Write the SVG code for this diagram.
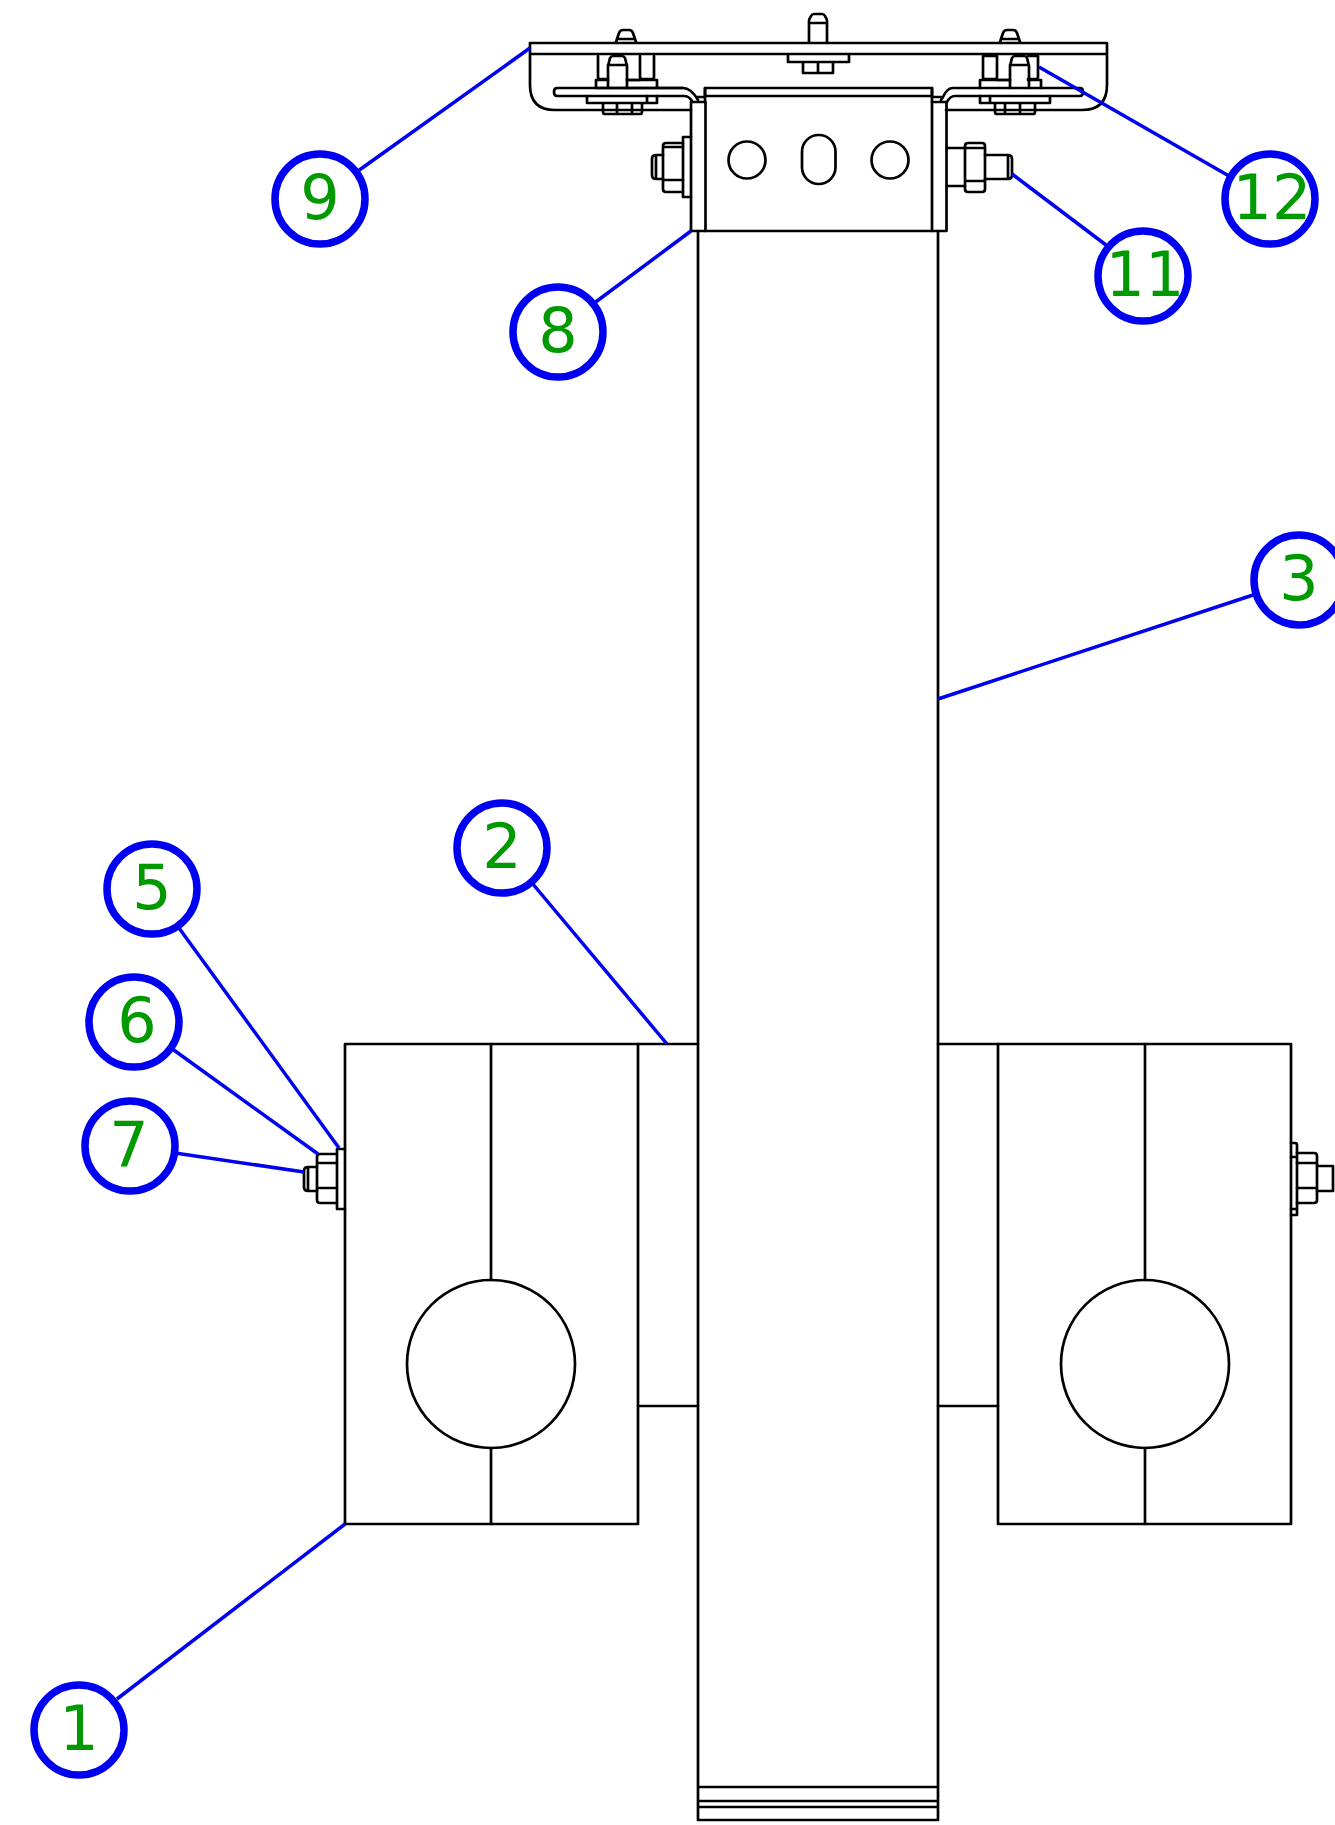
<svg xmlns="http://www.w3.org/2000/svg" width="1335" height="1825" viewBox="0 0 1335 1825">
<style>
.k{fill:none;stroke:#000;stroke-width:2.7;stroke-linejoin:round;stroke-linecap:round}
.l{fill:none;stroke:#0000f0;stroke-width:3.5}
.c{fill:#fff;stroke:#0000f0;stroke-width:7.5}
.t{font-family:"DejaVu Sans",Verdana,sans-serif;font-size:62px;fill:#009900;text-anchor:middle}
</style>
<defs>
<path id="topbolt" class="k" d="M-10 0L-7 -9Q-6 -12 -3 -12H3Q6 -12 7 -9L10 0M-9 -3H9"/>
</defs>
<g id="column">
<path class="k" d="M698 231V1820H938V231M698 1787H938M698 1801H938M698 1807H938M698 1820H938"/>
</g>
<g id="left-clamp">
<rect class="k" x="345" y="1044" width="293" height="480"/>
<path class="k" d="M491 1044V1280M491 1448V1524M638 1044H698M638 1406H698"/>
<circle class="k" cx="491" cy="1364" r="84"/>
<path class="k" d="M345 1149H337V1209H345"/>
<path class="k" d="M337 1154H320Q317 1154 317 1157V1200Q317 1203 320 1203H337M317 1163H337M317 1188H337"/>
<path class="k" d="M317 1167H308Q304 1167 304 1171V1187Q304 1191 308 1191H317M308 1167V1191"/>
</g>
<g id="right-clamp">
<rect class="k" x="998" y="1044" width="293" height="480"/>
<path class="k" d="M1145 1044V1280M1145 1448V1524M938 1044H998M938 1406H998"/>
<circle class="k" cx="1145" cy="1364" r="84"/>
<path class="k" d="M1291 1143H1295Q1297 1143 1297 1145V1215H1291M1291 1157H1297M1291 1209H1297"/>
<path class="k" d="M1297 1153H1314Q1317 1153 1317 1156V1200Q1317 1203 1314 1203H1297M1297 1163H1317M1297 1188H1317"/>
<path class="k" d="M1317 1166H1333V1191H1317"/>
</g>
<g id="head-plate">
<path class="k" d="M530 54V43H1107V85Q1107 110 1082 110H946M530 54H1107M530 43V85Q530 110 555 110H691"/>
<use href="#topbolt" x="626" y="42"/>
<use href="#topbolt" x="1010" y="42"/>
<path class="k" d="M809 42V21Q809 19 810 18L811 16Q812 14 814 14H822Q824 14 825 16L826 18Q827 19 827 21V42M809 23H827"/>
<path class="k" d="M788 55V62H849V55M803 62V73H833V62M818 62V73"/>
</g>
<g id="left-bolts">
<path class="k" d="M598 56V77Q598 79 600 79H608M597 80H608M627 80H640M640 56V77Q640 79 642 79H652Q654 79 654 77V56"/>
<path class="k" d="M596 88V80M596 88H683M657 88V80H627"/>
<path class="k" d="M608 88V66L610 58Q611 56 613 56H622Q624 56 625 58L627 66V88M608 65H627"/>
<path class="k" d="M683 88Q691 88 698 100M683 88H557Q554 88 554 92Q554 96 557 96H684Q689 96 692 101M696 97H705V88"/>
<path class="k" d="M587 96V103H647V96M603 103V112Q603 114 605 114H640Q642 114 642 112V103M617 103V114M632 103V114M647 103H657V96"/>
</g>
<g id="right-bolts">
<path class="k" d="M983 56V77Q983 79 985 79H995Q997 79 997 77V56M1028 79H1036Q1038 79 1038 77V56M983 56H997M1028 56H1038M997 80H1010"/>
<path class="k" d="M980 88V80H1010M1028 80H1041V88"/>
<path class="k" d="M1010 88V66L1012 58Q1013 56 1015 56H1024Q1026 56 1027 58L1029 66V88M1010 65H1029"/>
<path class="k" d="M953 88Q947 88 943 97L941 100M953 88H1080Q1083 88 1083 92Q1083 96 1080 96H955Q950 96 947 102M941 97H932V88"/>
<path class="k" d="M980 96V103H990M990 96V103H1050V96M995 103V112Q995 114 997 114H1033Q1035 114 1035 112V103M1005 103V114M1020 103V114"/>
</g>
<g id="bracket">
<rect class="k" x="691" y="102" width="14.500" height="129"/>
<rect class="k" x="932" y="102" width="14.500" height="129"/>
<path class="k" d="M705 231H932M705 88H932V102M705 96H932M705 88V102"/>
<circle class="k" cx="747" cy="160" r="18.500"/>
<circle class="k" cx="890" cy="160" r="18.500"/>
<rect class="k" x="802" y="135" width="33.500" height="49" rx="16.700"/>
<path class="k" d="M691 137H683V197H691"/>
<path class="k" d="M683 143H666Q663 143 663 146V189Q663 192 666 192H683M663 147H683M663 180H683"/>
<path class="k" d="M663 155H656Q652 155 652 159V175Q652 179 656 179H663M656 155V179"/>
<path class="k" d="M947 148H965M947 186H965"/>
<path class="k" d="M968 143H982Q985 143 985 146V189Q985 192 982 192H968Q965 192 965 189V146Q965 143 968 143M965 148H985M965 181H985"/>
<path class="k" d="M985 155H1008Q1012 155 1012 159V175Q1012 179 1008 179H985M1008 155V179"/>
</g>
<g id="connectors">
<path class="l" d="M117 1699L345 1524"/>
<path class="l" d="M532 883L667 1044"/>
<path class="l" d="M1256 594L938 699"/>
<path class="l" d="M179 928L339 1148"/>
<path class="l" d="M171 1048L318 1154"/>
<path class="l" d="M175 1153L304 1172"/>
<path class="l" d="M593 304L691 231"/>
<path class="l" d="M358 171L530 48"/>
<path class="l" d="M1106 245L1012 174"/>
<path class="l" d="M1229 176L1039 67"/>
</g>
<g id="n1"><circle class="c" cx="79" cy="1730" r="45"/><text class="t" x="79" y="1750">1</text></g>
<g id="n2"><circle class="c" cx="502" cy="848" r="45"/><text class="t" x="502" y="868">2</text></g>
<g id="n3"><circle class="c" cx="1299" cy="580" r="45"/><text class="t" x="1299" y="600">3</text></g>
<g id="n5"><circle class="c" cx="152" cy="889" r="45"/><text class="t" x="152" y="909">5</text></g>
<g id="n6"><circle class="c" cx="134" cy="1022" r="45"/><text class="t" x="137" y="1042">6</text></g>
<g id="n7"><circle class="c" cx="130" cy="1146" r="45"/><text class="t" x="129" y="1166">7</text></g>
<g id="n8"><circle class="c" cx="558" cy="332" r="45"/><text class="t" x="558" y="352">8</text></g>
<g id="n9"><circle class="c" cx="320" cy="199" r="45"/><text class="t" x="320" y="219">9</text></g>
<g id="n11"><circle class="c" cx="1143" cy="276" r="45"/><text class="t" x="1145" y="296">11</text></g>
<g id="n12"><circle class="c" cx="1270" cy="199" r="45"/><text class="t" x="1272" y="219">12</text></g>
</svg>
